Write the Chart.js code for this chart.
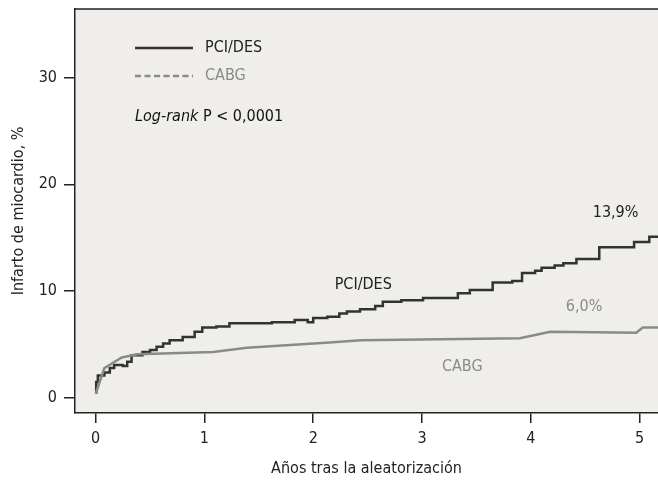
<!DOCTYPE html>
<html>
<head>
<meta charset="utf-8">
<script src="https://cdn.jsdelivr.net/npm/chart.js@4"></script>
<style>
  html, body { margin: 0; padding: 0; background: #fff; }
  #wrap { width: 658px; height: 486px; }
</style>
</head>
<body>
<div id="wrap"><canvas id="kmChart"></canvas></div>
<script>
const FONT = '"Liberation Sans Narrow", "DejaVu Sans Condensed", "Roboto", sans-serif';

/* ── Data ── */
const pciYears  = [0, 0.005, 0.02, 0.08, 0.13, 0.17, 0.25, 0.29, 0.33, 0.43, 0.5, 0.56, 0.62, 0.68, 0.8, 0.91, 0.98, 1.11, 1.23, 1.62, 1.83, 1.95, 2.0, 2.13, 2.24, 2.31, 2.43, 2.57, 2.64, 2.81, 3.01, 3.33, 3.44, 3.65, 3.83, 3.92, 4.04, 4.10, 4.22, 4.30, 4.42, 4.63, 4.95, 5.09, 5.17];
const pciValues = [0.5, 1.5, 2.1, 2.4, 2.8, 3.1, 3.0, 3.4, 4.0, 4.3, 4.5, 4.8, 5.1, 5.4, 5.7, 6.2, 6.6, 6.7, 7.0, 7.1, 7.3, 7.1, 7.5, 7.6, 7.9, 8.1, 8.3, 8.6, 9.0, 9.15, 9.35, 9.8, 10.1, 10.8, 10.95, 11.7, 11.9, 12.2, 12.4, 12.6, 13.0, 14.1, 14.6, 15.1, 15.1];

const cabgYears  = [0, 0.08, 0.16, 0.24, 0.38, 1.08, 1.39, 2.15, 2.44, 3.9, 4.18, 4.97, 5.03, 5.17];
const cabgValues = [0.4, 2.8, 3.3, 3.8, 4.1, 4.3, 4.7, 5.2, 5.4, 5.6, 6.2, 6.1, 6.6, 6.6];

const xTicks = [0, 1, 2, 3, 4, 5];
const yTicks = [0, 10, 20, 30];

const seriesNames = ["PCI/DES", "CABG"];
const endLabels = ["13,9%", "6,0%"];

const pciColor = "#333333";
const cabgColor = "#8a8a8a";

/* ── Plot box, legend and labels ── */
const decorations = {
  id: "decorations",
  beforeDraw(chart) {
    const { ctx, chartArea: a } = chart;
    ctx.save();
    ctx.fillStyle = "#efeeea";
    ctx.fillRect(a.left, a.top, a.right - a.left, a.bottom - a.top);
    ctx.strokeStyle = "#222";
    ctx.lineWidth = 1.5;
    ctx.beginPath();
    ctx.moveTo(a.left, a.top);
    ctx.lineTo(a.right, a.top);
    ctx.stroke();
    ctx.restore();
  },
  afterDraw(chart) {
    const { ctx, scales } = chart;
    const x = scales.x, y = scales.y;
    ctx.save();
    ctx.textBaseline = "middle";

    // legend
    ctx.lineWidth = 2.5;
    ctx.strokeStyle = pciColor;
    ctx.beginPath(); ctx.moveTo(135, 48); ctx.lineTo(193, 48); ctx.stroke();
    ctx.strokeStyle = cabgColor;
    ctx.setLineDash([6, 3.5]);
    ctx.beginPath(); ctx.moveTo(135, 76); ctx.lineTo(193, 76); ctx.stroke();
    ctx.setLineDash([]);

    ctx.font = "16px " + FONT;
    ctx.fillStyle = "#222";
    ctx.fillText(seriesNames[0], 205, 48);
    ctx.fillStyle = cabgColor;
    ctx.fillText(seriesNames[1], 205, 76);

    ctx.fillStyle = "#111";
    ctx.font = "italic 16px " + FONT;
    ctx.fillText("Log-rank", 135, 117);
    const w = ctx.measureText("Log-rank ").width;
    ctx.font = "16px " + FONT;
    ctx.fillText("P < 0,0001", 135 + w, 117);

    // curve labels
    ctx.textAlign = "center";
    ctx.fillStyle = "#222";
    ctx.fillText(endLabels[0], x.getPixelForValue(4.78), y.getPixelForValue(17.3));
    ctx.fillText(seriesNames[0], x.getPixelForValue(2.46), y.getPixelForValue(10.6));
    ctx.fillStyle = cabgColor;
    ctx.fillText(endLabels[1], x.getPixelForValue(4.49), y.getPixelForValue(8.5));
    ctx.fillText(seriesNames[1], x.getPixelForValue(3.37), y.getPixelForValue(2.9));
    ctx.restore();
  }
};

const toPoints = (xs, ys) => xs.map((v, i) => ({ x: v, y: ys[i] }));

new Chart(document.getElementById("kmChart"), {
  type: "line",
  data: {
    datasets: [
      {
        label: seriesNames[1],
        data: toPoints(cabgYears, cabgValues),
        borderColor: cabgColor,
        borderWidth: 2.5,
        pointRadius: 0,
        tension: 0,
        fill: false
      },
      {
        label: seriesNames[0],
        data: toPoints(pciYears, pciValues),
        borderColor: pciColor,
        borderWidth: 2.5,
        pointRadius: 0,
        stepped: "before",
        fill: false
      }
    ]
  },
  options: {
    responsive: true,
    maintainAspectRatio: false,
    animation: false,
    layout: { padding: { top: 9, right: 0, left: 0, bottom: 0 } },
    plugins: { legend: { display: false }, tooltip: { enabled: false } },
    scales: {
      x: {
        type: "linear",
        min: -0.19,
        max: 5.17,
        afterFit: (s) => { s.height = 73; s.paddingLeft = 0; s.paddingRight = 0; },
        afterBuildTicks: (s) => { s.ticks = xTicks.map((v) => ({ value: v })); },
        border: { display: true, color: "#222", width: 1.5 },
        grid: { drawOnChartArea: false, drawTicks: true, tickLength: 10, color: "#222", lineWidth: 1.5 },
        ticks: { color: "#222", font: { family: FONT, size: 16 }, padding: 6 },
        title: { display: true, text: "Años tras la aleatorización", color: "#222", font: { family: FONT, size: 16 }, padding: { top: 0, bottom: 8 } }
      },
      y: {
        type: "linear",
        min: -1.4,
        max: 36.4,
        afterFit: (s) => { s.width = 75; s.paddingTop = 0; s.paddingBottom = 0; },
        afterBuildTicks: (s) => { s.ticks = yTicks.map((v) => ({ value: v })); },
        border: { display: true, color: "#222", width: 1.5 },
        grid: { drawOnChartArea: false, drawTicks: true, tickLength: 11, color: "#222", lineWidth: 1.5 },
        ticks: { color: "#222", font: { family: FONT, size: 16 }, padding: 7 },
        title: { display: true, text: "Infarto de miocardio, %", color: "#222", font: { family: FONT, size: 16 }, padding: { top: 9, bottom: 0 } }
      }
    }
  },
  plugins: [decorations]
});
</script>
</body>
</html>
